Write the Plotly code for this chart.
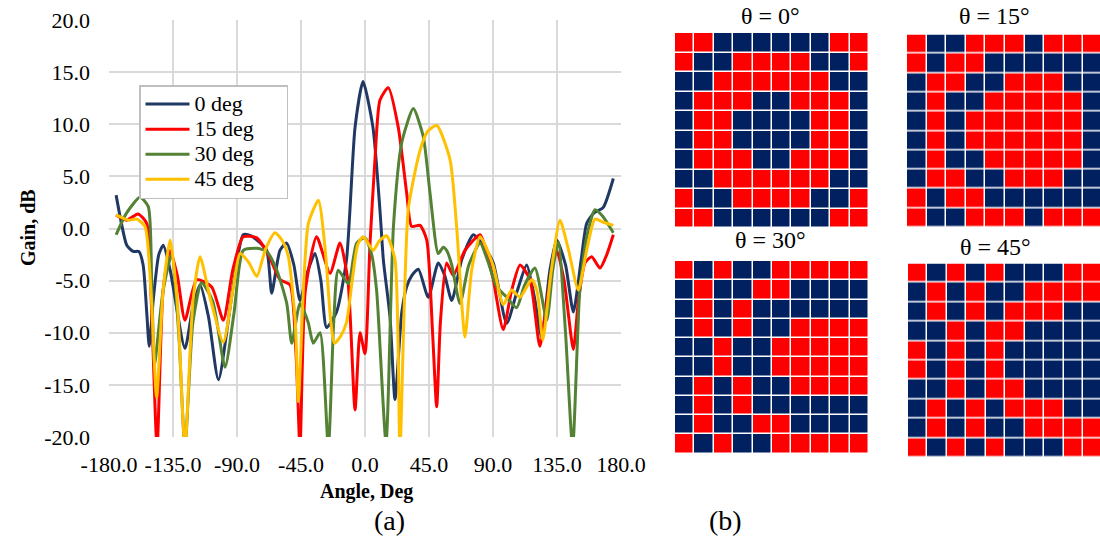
import plotly.graph_objects as go

# ---------------- data: gain patterns ----------------
deg0_x = [-175, -171.7, -167.5, -163, -159, -156, -153.5, -151.7, -149, -145, -141.8, -137, -126.6, -121, -116, -110, -103,
          -85.6, -80, -76.1, -69.1, -65.6, -59.8, -55.1, -50, -45.7, -40, -35.2, -31, -27, -20, -13, -7, -1.4, 5.6, 10.5,
          12.9, 17.6, 21.1, 25.8, 29.3, 33, 37.5, 44.5, 51.5, 56, 61, 68, 76.2, 84, 90.2, 99.6, 107, 113.7, 119, 124.2,
          130, 134.8, 141, 146.5, 152, 155.9, 161, 167.4, 174.6]
deg0_y = [3.2, 0.8, -1.6, -2.2, -2.2, -3.5, -8, -11.3, -7, -2.5, -1.6, -4, -11.5, -7.5, -5.4, -8.5, -14.5,
          -0.6, -0.7, -1.1, -2.1, -6.2, -2.1, -1.4, -3.5, -6.9, -4, -2.4, -5, -9.5, -8, -3, 9.7, 14.1, 9.7, 1.8,
          -3, -8.5, -16.4, -8.1, -5.6, -4.5, -3.9, -6.6, -3.3, -4.5, -6.9, -3, -0.6, -1.8, -3.3, -9.1, -6, -3.5, -6.5, -10.4,
          -4, -1.1, -3.5, -8, -3, 0.5, 1.5, 2.0, 4.8]

deg15_x = [-175, -167.6, -159.6, -153.5, -150, -146.2, -142, -137.1, -132, -126.6, -118.3, -107.8, -99.6, -93, -85.6,
           -76.1, -68, -59.8, -52.7, -48.5, -45.7, -42, -34, -24.6, -17.6, -12, -7, -3.5, 0, 3.5, 7, 10.5, 16.4, 23.4,
           29.3, 32.8, 38.7, 43.4, 47.5, 50.4, 53, 57.4, 62, 70.3, 80.9, 86, 90.2, 97.2, 103, 109, 116, 123, 129, 134.8,
           140, 146.5, 150, 154.7, 159.4, 165.2, 170, 174.6]
deg15_y = [1.3, 0.8, 1.4, 0.5, -8, -21, -6, -2.1, -4.5, -8.8, -4.9, -5.6, -8.8, -4, -0.8,
           -0.9, -2.5, -4.9, -5.4, -12, -21, -6, -0.8, -4.3, -1.4, -5, -17.4, -10, -12, -1.5, 6.6, 12.3, 13.5, 9.7,
           3.4, 0.2, 0.3, -1.1, -10, -17.1, -9, -3.3, -4.5, -2.1, -0.6, -2.5, -4.9, -9.7, -6, -3.5, -4.9, -11.3, -6, -2.1,
           -5, -11.6, -7, -3.3, -2.7, -3.8, -2.5, -0.6]

deg30_x = [-175, -167.6, -158.2, -152.4, -150, -148, -142, -136, -131, -126.6, -121, -114.9, -107, -98.4, -92, -85.6,
           -76.1, -69.1, -62, -55, -51.5, -45.7, -40, -36.4, -31.6, -25.8, -22, -18.8, -11.7, -5.9, 0, 4.7, 8.2, 14.8,
           20, 25.8, 34, 41, 45.7, 51.5, 55, 57.4, 61, 66.8, 73, 80.9, 86, 92.6, 99, 106.6, 112, 119.5, 127.8, 132, 135.9,
           141, 146, 151, 155.9, 161.7, 167, 174.6]
deg30_y = [-0.6, 1.5, 3.0, 2.1, -5, -13, -6, -2.5, -10, -21, -9, -5.2, -7, -13.3, -8, -2.1,
           -1.9, -2.2, -4, -7.2, -11, -7.2, -9, -11, -10, -21, -9, -4, -5.3, -1.4, -0.9, -2.5, -6, -20.5,
           0.2, 8.2, 11.5, 8.8, 3.4, -2.4, -1.8, -2.1, -3.5, -7.2, -3.5, -1.4, -3, -5.6, -6.5, -7.6, -5.5, -3.8, -8.8, -4, -1.3,
           -10, -21, -6, -0.8, 1.8, 1.2, -0.4]

deg45_x = [-175, -166.4, -160.5, -154.7, -150.5, -146.5, -142, -137, -132, -126.6, -121, -116, -109, -99.6, -93, -87.9,
           -82, -76.1, -70, -63.3, -58, -53.9, -49, -46.9, -43, -39.8, -32.8, -28, -24, -21.5, -17, -13, -9, -5, -1.2,
           5.8, 10, 15.2, 21.1, 24.6, 30.4, 38.7, 44, 50.4, 59.8, 64.4, 70.3, 75, 80.9, 90, 97.2, 103.1, 109, 117.2, 121,
           125, 131, 137.1, 143, 150, 156, 161.7, 167.6, 174.6]
deg45_y = [1.3, 0.8, 0.9, 0.2, -6, -16.2, -6, -1.1, -7, -21, -7, -2.7, -6.6, -10.9, -6, -2.4,
           -3.2, -4.6, -2, -0.4, -1.2, -2.7, -9, -16.6, -5, 0.5, 2.7, -2, -9, -11, -10.3, -9, -5, -1.5, -0.8,
           -2.1, -1.2, -0.7, -3, -21, 1.8, 7.5, 9.3, 9.9, 6.6, 0.2, -10.4, -4, -0.8, -3.5, -7.3, -5.9, -6.6, -4.9, -6,
           -10.7, -4, 0.8, -2, -5.9, -2, 0.9, 0.6, 0.3]

series_names = ["0 deg", "15 deg", "30 deg", "45 deg"]
series_colors = ["#203864", "#FF0000", "#548235", "#FFC000"]

# ---------------- data: coding patterns (1 = red, 0 = blue) ----------------
grid_0 = [
    [1, 1, 0, 0, 0, 0, 0, 0, 1, 1],
    [1, 0, 0, 1, 1, 1, 1, 0, 0, 1],
    [0, 0, 1, 1, 1, 1, 1, 1, 0, 0],
    [0, 1, 1, 1, 0, 0, 1, 1, 1, 0],
    [0, 1, 1, 0, 0, 0, 0, 1, 1, 0],
    [0, 1, 1, 0, 0, 0, 0, 1, 1, 0],
    [0, 1, 1, 1, 0, 0, 1, 1, 1, 0],
    [0, 0, 1, 1, 1, 1, 1, 1, 0, 0],
    [1, 0, 0, 1, 1, 1, 1, 0, 0, 1],
    [1, 1, 0, 0, 0, 0, 0, 0, 1, 1],
]
grid_15 = [
    [1, 0, 0, 1, 1, 1, 0, 1, 1, 1],
    [1, 0, 1, 1, 0, 0, 0, 0, 0, 0],
    [0, 1, 1, 0, 0, 1, 1, 1, 0, 0],
    [0, 1, 0, 0, 1, 1, 1, 1, 1, 0],
    [0, 1, 0, 1, 1, 1, 1, 1, 1, 0],
    [0, 1, 0, 1, 1, 1, 1, 1, 1, 0],
    [0, 1, 0, 0, 1, 1, 1, 1, 1, 0],
    [0, 1, 1, 0, 0, 1, 1, 1, 0, 0],
    [1, 0, 1, 1, 0, 0, 0, 0, 0, 0],
    [1, 0, 0, 1, 1, 1, 0, 1, 1, 1],
]
grid_30 = [
    [1, 0, 1, 0, 0, 1, 1, 1, 1, 1],
    [0, 1, 0, 0, 1, 1, 0, 0, 0, 0],
    [0, 1, 0, 1, 0, 0, 0, 0, 0, 0],
    [0, 1, 0, 1, 0, 0, 1, 1, 1, 1],
    [0, 0, 1, 0, 0, 1, 1, 1, 1, 1],
    [0, 0, 1, 0, 0, 1, 1, 1, 1, 1],
    [0, 1, 0, 1, 0, 0, 1, 1, 1, 1],
    [0, 1, 0, 1, 0, 0, 0, 0, 0, 0],
    [0, 1, 0, 0, 1, 1, 0, 0, 0, 0],
    [1, 0, 1, 0, 0, 1, 1, 1, 1, 1],
]
grid_45 = [
    [1, 0, 1, 0, 1, 0, 0, 0, 1, 1],
    [0, 1, 0, 1, 0, 0, 1, 1, 1, 1],
    [0, 1, 0, 1, 0, 1, 1, 1, 0, 0],
    [0, 0, 1, 0, 1, 1, 0, 0, 0, 0],
    [1, 0, 1, 0, 1, 0, 0, 0, 0, 0],
    [1, 0, 1, 0, 1, 0, 0, 0, 0, 0],
    [0, 0, 1, 0, 1, 1, 0, 0, 0, 0],
    [0, 1, 0, 1, 0, 1, 1, 1, 0, 0],
    [0, 1, 0, 1, 0, 0, 1, 1, 1, 1],
    [1, 0, 1, 0, 1, 0, 0, 0, 1, 1],
]
grid_titles = ["θ = 0°", "θ = 15°", "θ = 30°", "θ = 45°"]

x_ticks = [-180, -135, -90, -45, 0, 45, 90, 135, 180]
x_tick_labels = ["-180.0", "-135.0", "-90.0", "-45.0", "0.0", "45.0", "90.0", "135.0", "180.0"]
y_ticks = [-20, -15, -10, -5, 0, 5, 10, 15, 20]
y_tick_labels = ["-20.0", "-15.0", "-10.0", "-5.0", "0.0", "5.0", "10.0", "15.0", "20.0"]

# ---------------- layout helpers ----------------
W, H = 1100, 540
FONT = "Liberation Serif"
PAD = "&nbsp;" * 5


def px_x(a, b):
    return [a / W, b / W]


def px_y(top, bottom):
    return [1 - bottom / H, 1 - top / H]


fig = go.Figure()

for xs, ys, name, col in zip([deg0_x, deg15_x, deg30_x, deg45_x],
                             [deg0_y, deg15_y, deg30_y, deg45_y],
                             series_names, series_colors):
    fig.add_trace(go.Scatter(x=xs, y=ys, name=f"<span style='font-size:22px'>{name}{PAD}</span>",
                             mode="lines",
                             line=dict(color=col, width=3, shape="spline", smoothing=0.6),
                             xaxis="x", yaxis="y"))

grids = [grid_0, grid_15, grid_30, grid_45]
# pixel boxes (left, right, top, bottom) and x-range end for each grid
boxes = [(675, 869, 33, 228, 9.5), (907, 1100, 34.5, 227.5, 9.35),
         (675, 869, 261, 453.5, 9.5), (908, 1100, 263.5, 457.5, 9.35)]
title_pos = [(770, 16), (994, 16), (770, 240), (996, 247)]

for i, (g, box) in enumerate(zip(grids, boxes)):
    k = i + 2
    fig.add_trace(go.Heatmap(z=g, colorscale=[[0, "#002060"], [1, "#FF0000"]], zmin=0, zmax=1,
                             showscale=False, xgap=1.5, ygap=1.5, hoverinfo="skip",
                             xaxis=f"x{k}", yaxis=f"y{k}"))
    l, r, t, b, xend = box
    fig.layout[f"xaxis{k}"] = dict(domain=px_x(l, r), range=[-0.5, xend], visible=False,
                                   anchor=f"y{k}", fixedrange=True, automargin=False)
    fig.layout[f"yaxis{k}"] = dict(domain=px_y(t, b), range=[9.5, -0.5], visible=False,
                                   anchor=f"x{k}", fixedrange=True, automargin=False)

annotations = []
for (tx, ty), txt in zip(title_pos, grid_titles):
    annotations.append(dict(text=txt, x=tx / W, y=1 - ty / H, xref="paper", yref="paper",
                            showarrow=False, font=dict(family=FONT, size=24, color="black"),
                            xanchor="center", yanchor="middle"))
annotations += [
    dict(text="<b>Angle, Deg</b>", x=366 / W, y=1 - 491 / H, xref="paper", yref="paper", showarrow=False,
         font=dict(family=FONT, size=20, color="black"), xanchor="center", yanchor="middle"),
    dict(text="<b>Gain, dB</b>", x=28 / W, y=1 - 228 / H, xref="paper", yref="paper", showarrow=False,
         textangle=-90, font=dict(family=FONT, size=20, color="black"), xanchor="center", yanchor="middle"),
    dict(text="(a)", x=389 / W, y=1 - 520 / H, xref="paper", yref="paper", showarrow=False,
         font=dict(family=FONT, size=28, color="black"), xanchor="center", yanchor="middle"),
    dict(text="(b)", x=725 / W, y=1 - 520 / H, xref="paper", yref="paper", showarrow=False,
         font=dict(family=FONT, size=28, color="black"), xanchor="center", yanchor="middle"),
]

fig.update_layout(
    width=W, height=H, autosize=False,
    margin=dict(l=0, r=0, t=0, b=0, pad=0, autoexpand=False),
    paper_bgcolor="white", plot_bgcolor="white",
    font=dict(family=FONT, size=22, color="black"),
    xaxis=dict(domain=px_x(109, 621), range=[-180, 180], tickvals=x_ticks, ticktext=x_tick_labels,
               showgrid=True, gridcolor="#d9d9d9", gridwidth=1.5, zeroline=False,
               showline=False, ticks="", ticklabelstandoff=12, anchor="y", tickangle=0,
               automargin=False, tickfont=dict(family=FONT, size=22, color="black")),
    yaxis=dict(domain=px_y(20, 437), range=[-20, 20], tickvals=y_ticks, ticktext=y_tick_labels,
               showgrid=True, gridcolor="#d9d9d9", gridwidth=1.5, zeroline=False,
               showline=False, ticks="", ticklabelstandoff=18, anchor="x",
               automargin=False, tickfont=dict(family=FONT, size=22, color="black")),
    legend=dict(x=139 / W, y=1 - 85 / H, xanchor="left", yanchor="top",
                bgcolor="white", bordercolor="#bfbfbf", borderwidth=1.5,
                font=dict(family=FONT, size=17, color="black"), tracegroupgap=0,
                itemwidth=44),
    showlegend=True,
    annotations=annotations,
)

fig.write_html("out.html", config={"displayModeBar": False},
               post_script="document.body.style.margin='0px';")
